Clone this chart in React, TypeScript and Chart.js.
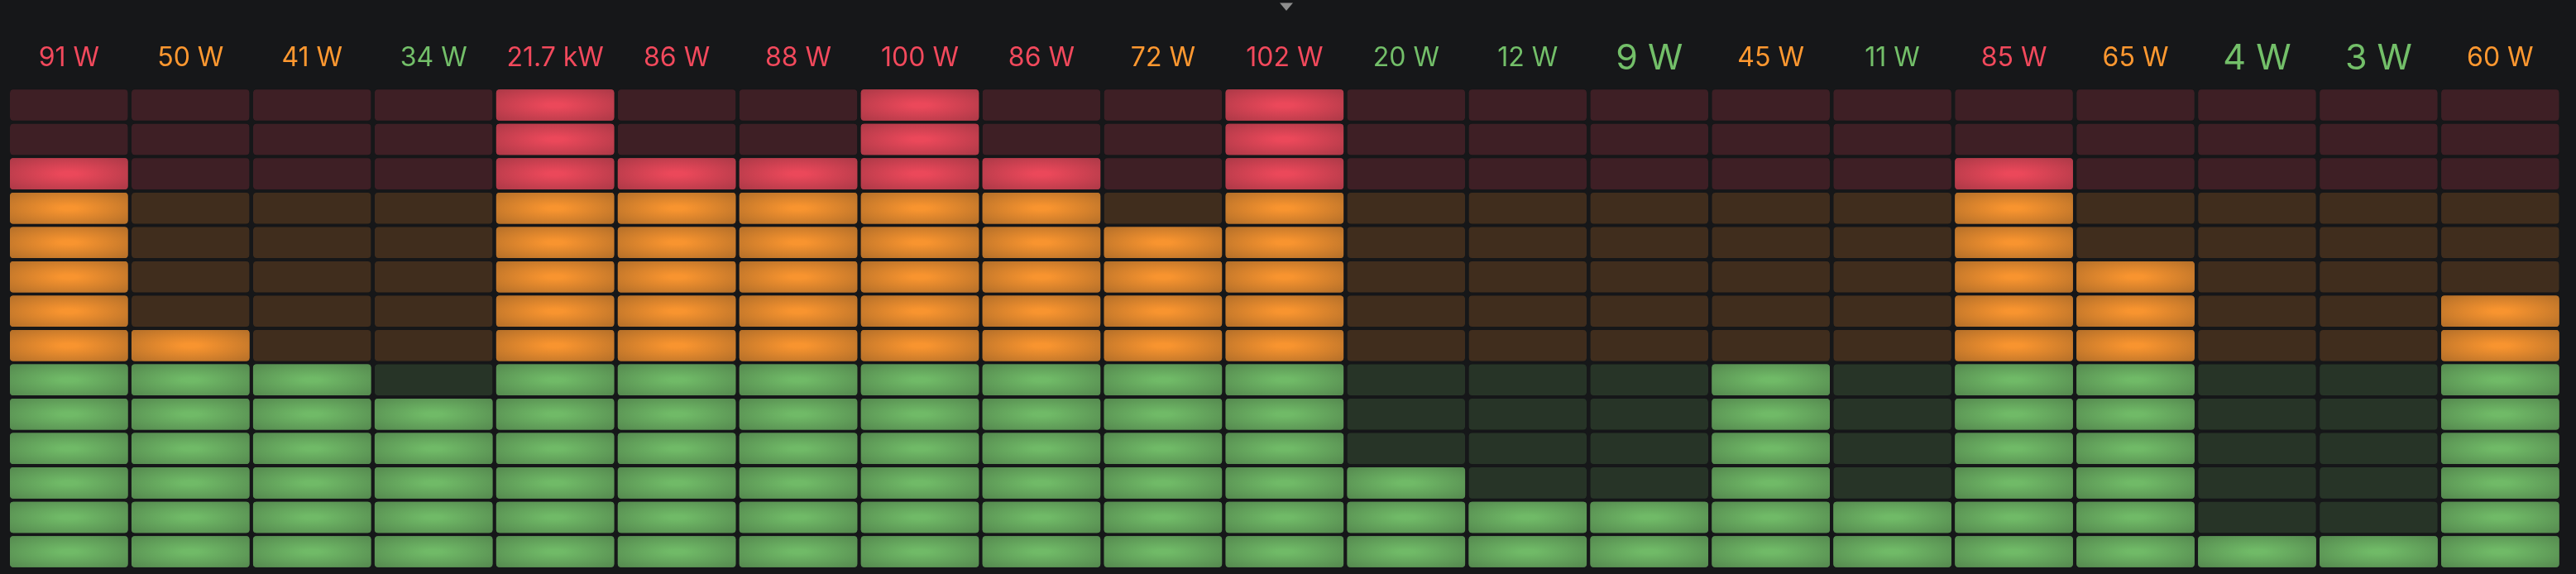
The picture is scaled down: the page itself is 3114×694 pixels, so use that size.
import React, { useEffect, useRef } from "react";
import { Chart, registerables } from "chart.js";

Chart.register(...registerables);

// ---- data ----
const CATEGORIES = ["91 W", "50 W", "41 W", "34 W", "21.7 kW", "86 W", "88 W", "100 W", "86 W", "72 W", "102 W", "20 W", "12 W", "9 W", "45 W", "11 W", "85 W", "65 W", "4 W", "3 W", "60 W"];
const SERIES_VALUES = [91, 50, 41, 34, 21700, 86, 88, 100, 86, 72, 102, 20, 12, 9, 45, 11, 85, 65, 4, 3, 60];
const VALUE_LABELS = ["91 W", "50 W", "41 W", "34 W", "21.7 kW", "86 W", "88 W", "100 W", "86 W", "72 W", "102 W", "20 W", "12 W", "9 W", "45 W", "11 W", "85 W", "65 W", "4 W", "3 W", "60 W"];
const GAUGE_MIN = 0;
const GAUGE_MAX = 107;
const CELL_COUNT = 14;
const THRESHOLD_VALUES = [-Infinity, 40, 80];
const THRESHOLD_COLORS = ["#73BF69", "#FF9830", "#F2495C"];

// ---- styles ----
const BG = "#161719";
const BG_RGB = [22, 23, 25];

function hexRgb(h: string): number[] {
  const n = parseInt(h.slice(1), 16);
  return [(n >> 16) & 255, (n >> 8) & 255, n & 255];
}
function mix(c: number[], a: number): string {
  const r = c.map((v, i) => Math.round(v * a + BG_RGB[i] * (1 - a)));
  return `rgb(${r[0]},${r[1]},${r[2]})`;
}
function thresholdColor(v: number): string {
  let c = THRESHOLD_COLORS[0];
  for (let i = 0; i < THRESHOLD_VALUES.length; i++) if (v >= THRESHOLD_VALUES[i]) c = THRESHOLD_COLORS[i];
  return c;
}
function cellValue(i: number): number {
  return GAUGE_MIN + ((GAUGE_MAX - GAUGE_MIN) / CELL_COUNT) * i;
}
function isLit(col: number, cell: number): boolean {
  return SERIES_VALUES[col] >= cellValue(cell);
}

const BORDER = 2;
const RADIUS = 6;

function roundRect(ctx: CanvasRenderingContext2D, x: number, y: number, w: number, h: number, r: number) {
  ctx.beginPath();
  ctx.moveTo(x + r, y);
  ctx.lineTo(x + w - r, y);
  ctx.arcTo(x + w, y, x + w, y + r, r);
  ctx.lineTo(x + w, y + h - r);
  ctx.arcTo(x + w, y + h, x + w - r, y + h, r);
  ctx.lineTo(x + r, y + h);
  ctx.arcTo(x, y + h, x, y + h - r, r);
  ctx.lineTo(x, y + r);
  ctx.arcTo(x, y, x + r, y, r);
  ctx.closePath();
}

const lcdPlugin = {
  id: "lcdGlow",
  afterDatasetsDraw(chart: any) {
    const ctx: CanvasRenderingContext2D = chart.ctx;
    for (let d = 0; d < CELL_COUNT; d++) {
      const meta = chart.getDatasetMeta(d);
      meta.data.forEach((el: any, col: number) => {
        if (!isLit(col, d)) return;
        const p = el.getProps(["x", "y", "base", "width"], true);
        const left = p.x - p.width / 2;
        const top = Math.min(p.y, p.base) + BORDER;
        const bottom = Math.max(p.y, p.base) - BORDER;
        const w = p.width;
        const h = bottom - top;
        const color = thresholdColor(cellValue(d));
        const rgb = hexRgb(color);
        ctx.save();
        roundRect(ctx, left, top, w, h, RADIUS - BORDER);
        ctx.clip();
        const cx = left + w / 2;
        const cy = top + h / 2;
        const rx = (w / 2) * Math.SQRT2;
        const ry = (h / 2) * Math.SQRT2;
        ctx.translate(cx, cy);
        ctx.scale(rx / ry, 1);
        const g = ctx.createRadialGradient(0, 0, 0, 0, 0, ry);
        g.addColorStop(0, mix(rgb, 0.97));
        g.addColorStop(0.1, mix(rgb, 0.97));
        g.addColorStop(1, mix(rgb, 0.68));
        ctx.fillStyle = g;
        ctx.fillRect(-rx / (rx / ry) - 2, -ry - 2, (2 * rx) / (rx / ry) + 4, 2 * ry + 4);
        ctx.restore();
      });
    }
  },
  afterDraw(chart: any) {
    const ctx: CanvasRenderingContext2D = chart.ctx;
    const xs = chart.scales.x;
    const area = chart.chartArea;
    const mid = area.top - 38;
    ctx.save();
    ctx.textAlign = "center";
    ctx.textBaseline = "alphabetic";
    VALUE_LABELS.forEach((t, i) => {
      const size = t.length <= 3 ? 43 : 32;
      ctx.font = `${size}px Inter, Roboto, sans-serif`;
      ctx.fillStyle = thresholdColor(SERIES_VALUES[i]);
      ctx.fillText(t, xs.getPixelForValue(i), mid + size * 0.727 / 2);
    });
    // panel menu caret
    const cx = chart.width / 2 - 2;
    ctx.fillStyle = "#8e8e8e";
    ctx.beginPath();
    ctx.moveTo(cx - 8, 3.5);
    ctx.lineTo(cx + 8, 3.5);
    ctx.lineTo(cx, 13);
    ctx.closePath();
    ctx.fill();
    ctx.restore();
  },
};

export default function App() {
  const ref = useRef<HTMLCanvasElement>(null);
  useEffect(() => {
    document.body.style.margin = "0";
    document.body.style.background = BG;
    const canvas = ref.current!;
    const datasets = Array.from({ length: CELL_COUNT }, (_, cell) => ({
      label: `cell ${cell}`,
      data: SERIES_VALUES.map(() => 1),
      backgroundColor: SERIES_VALUES.map((_, col) => {
        const rgb = hexRgb(thresholdColor(cellValue(cell)));
        return isLit(col, cell) ? mix(rgb, 0.68) : `rgba(${rgb[0]},${rgb[1]},${rgb[2]},0.18)`;
      }),
      borderColor: BG,
      borderWidth: { top: BORDER, bottom: BORDER, left: 0, right: 0 },
      borderSkipped: false,
      borderRadius: { topLeft: RADIUS, topRight: RADIUS, bottomLeft: RADIUS, bottomRight: RADIUS },
      barPercentage: 0.9707,
      categoryPercentage: 1,
    }));
    const chart = new Chart(canvas, {
      type: "bar",
      data: { labels: CATEGORIES, datasets: datasets as any },
      options: {
        responsive: false,
        animation: false,
        events: [],
        layout: { padding: { left: 9.85, right: 18.15, top: 106.3, bottom: 6.3 } },
        plugins: { legend: { display: false }, tooltip: { enabled: false }, title: { display: false } },
        scales: {
          x: { stacked: true, display: false, grid: { display: false } },
          y: { stacked: true, display: false, min: 0, max: CELL_COUNT, grid: { display: false } },
        },
      },
      plugins: [lcdPlugin],
    });
    return () => chart.destroy();
  }, []);
  return (
    <div style={{ width: 3114, height: 694, background: BG }}>
      <canvas ref={ref} width={3114} height={694} style={{ display: "block" }} />
    </div>
  );
}
